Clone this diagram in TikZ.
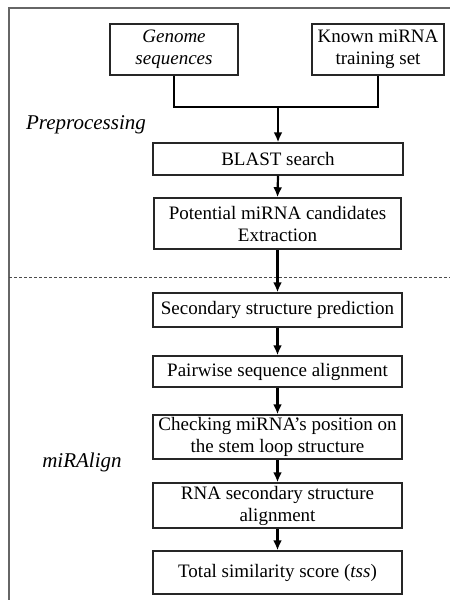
\documentclass[tikz,border=0pt]{standalone}
\usepackage{fontspec}
\setmainfont{Liberation Serif}
\usetikzlibrary{arrows.meta}
\begin{document}
\begin{tikzpicture}[x=1pt,y=-1pt,
  boxnode/.style={draw=black!85,line width=1.5pt,inner sep=0pt,align=center,
    font=\fontsize{19}{22}\selectfont},
  conn/.style={line width=2.2pt,black},
  arr/.style={conn,-{Latex[length=10pt,width=9pt]}},
  sidelabel/.style={font=\fontsize{21}{24}\selectfont\itshape}]
\useasboundingbox (0,0) rectangle (450,600);
\fill[white] (0,0) rectangle (450,600);
% frame
\draw[line width=1.6pt,black!60] (9,600) -- (9,8) -- (450,8);
% dashed separator
\draw[line width=1pt,black!70,dash pattern=on 3pt off 2pt] (9,277) -- (450,277);
% nodes
\node[boxnode,minimum width=128,minimum height=51] (gen) at (174,49.5) {\itshape Genome\\\itshape sequences};
\node[boxnode,minimum width=132,minimum height=51] (known) at (378,49.5) {Known miRNA\\training set};
\node[boxnode,minimum width=250,minimum height=32] (blast) at (278,159) {BLAST search};
\node[boxnode,minimum width=247,minimum height=51] (pot) at (277.5,223.5) {Potential miRNA candidates\\Extraction};
\node[boxnode,minimum width=249,minimum height=34] (sec) at (277.5,310) {Secondary structure prediction};
\node[boxnode,minimum width=249,minimum height=31] (pair) at (277.5,371.5) {Pairwise sequence alignment};
\node[boxnode,minimum width=249,minimum height=44] (check) at (277.5,437) {Checking miRNA's position on\\the stem loop structure};
\node[boxnode,minimum width=249,minimum height=45] (rna) at (277.5,505.5) {RNA secondary structure\\alignment};
\node[boxnode,minimum width=249,minimum height=43] (tss) at (277.5,572.5) {Total similarity score (\textit{tss})};
% side labels
\node[sidelabel] (pre) at (86,125) {Preprocessing};
\node[sidelabel] (mir) at (82,462) {miRAlign};
% connectors
\coordinate (merge) at (278,107);
\draw[conn] (gen.south) |- (merge) -| (known.south);
\draw[arr] (merge) -- (blast.north);
\draw[arr] (blast.south) -- (pot.north);
\draw[arr] (pot.south) -- (sec.north);
\draw[arr] (sec.south) -- (pair.north);
\draw[arr] (pair.south) -- (check.north);
\draw[arr] (check.south) -- (rna.north);
\draw[arr] (rna.south) -- (tss.north);
\end{tikzpicture}
\end{document}
